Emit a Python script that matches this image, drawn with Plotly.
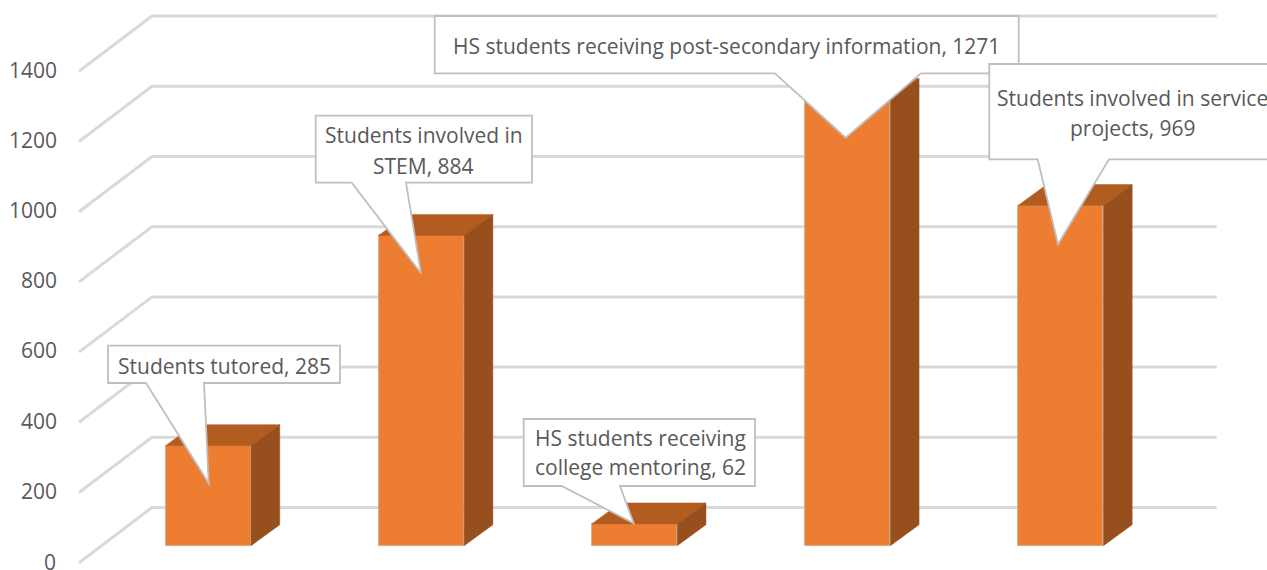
import plotly.graph_objects as go

# --- data ---
labels = ["Students tutored", "Students involved in STEM", "HS students receiving college mentoring",
          "HS students receiving post-secondary information", "Students involved in service projects"]
values = [285, 884, 62, 1271, 969]
axis_ticks = [0, 200, 400, 600, 800, 1000, 1200, 1400]

# --- geometry (pixels of the 1267x570 page) ---
W, H = 1267, 570
L = 58
PX_PER_VAL = 0.351
PX_PER_CAT = 213.1
X0 = 208.3       # centre of first bar
BASE = 545.7     # bar floor
LABEL0 = 561.7   # tick label 0
BAR_W = 85.5 / PX_PER_CAT
DX = 28.7 / PX_PER_CAT
DY = 21.0 / PX_PER_VAL
FRONT = "#ED7D31"; TOP = "#B35C20"; SIDE = "#974F1D"
GRID = "#D9D9D9"; EDGE = "#BFBFBF"; TXT = "#595959"
FONT = "Open Sans"

def xrange_():
    return [(L - X0) / PX_PER_CAT, (W - X0) / PX_PER_CAT]

fig = go.Figure()
# gridlines on primary axes (whose values match the tick labels)
grid_dx = [(79 - X0) / PX_PER_CAT, (152 - X0) / PX_PER_CAT, (1216.7 - X0) / PX_PER_CAT]
grid_dy = [(LABEL0 - 562.7) / PX_PER_VAL, (LABEL0 - 507.5) / PX_PER_VAL]
for v in axis_ticks:
    fig.add_trace(go.Scatter(x=grid_dx, y=[v + grid_dy[0], v + grid_dy[1], v + grid_dy[1]], mode="lines",
                             line=dict(color=GRID, width=3), hoverinfo="skip", showlegend=False))

# bars on overlay axes
cats = list(range(len(values)))
for i, v in zip(cats, values):
    r, l = i + BAR_W / 2, i - BAR_W / 2
    fig.add_trace(go.Scatter(x=[l, l + DX, r + DX, r, l], y=[v, v + DY, v + DY, v, v], mode="lines", fill="toself",
                             fillcolor=TOP, line=dict(color=TOP, width=0.5), xaxis="x2", yaxis="y2",
                             hoverinfo="skip", showlegend=False))
    fig.add_trace(go.Scatter(x=[r, r + DX, r + DX, r, r], y=[0, DY, v + DY, v, 0], mode="lines", fill="toself",
                             fillcolor=SIDE, line=dict(color=SIDE, width=0.5), xaxis="x2", yaxis="y2",
                             hoverinfo="skip", showlegend=False))
fig.add_trace(go.Bar(x=cats, y=values, width=BAR_W, marker=dict(color=FRONT, line=dict(color="#C9A48A", width=0.8)),
                     xaxis="x2", yaxis="y2", hovertext=labels, showlegend=False))

# callouts: (box left, top, right, bottom, tail-left, tail-right, tip x, tip y, [(text line, cx, cy), ...])
callouts = [
    (108, 345.7, 340, 383, 146, 204, 208.7, 483.3, [("Students tutored, 285", 224, 366)]),
    (315.7, 115.7, 532, 182.7, 351.7, 406, 421, 273.3,
     [("Students involved in", 423.5, 135), ("STEM, 884", 423.5, 166)]),
    (523.7, 419, 755, 486, 561.7, 620, 633.7, 523.3,
     [("HS students receiving", 640, 438), ("college mentoring, 62", 640, 467)]),
    (434.7, 16, 1018.7, 73.3, 775, 921, 845.7, 137.7,
     [("HS students receiving post-secondary information, 1271", 726.5, 46)]),
    (989.3, 64, 1280, 159.3, 1037.7, 1109, 1058, 244.3,
     [("Students involved in service", 1132, 98), ("projects, 969", 1133, 128)]),
]
def px(x): return (x - L) / (W - L)
def py(y): return 1 - y / H
shapes, annos = [], []
for (xl, yt, xr, yb, tl, tr, tx, ty, lines) in callouts:
    path = "M{} {} L{} {} L{} {} L{} {} L{} {} L{} {} L{} {} Z".format(
        px(xl), py(yt), px(xr), py(yt), px(xr), py(yb), px(tr), py(yb), px(tx), py(ty), px(tl), py(yb), px(xl), py(yb))
    shapes.append(dict(type="path", path=path, xref="paper", yref="paper", layer="above",
                       fillcolor="white", line=dict(color=EDGE, width=1.8)))
    for txt, cx, cy in lines:
        annos.append(dict(text=txt, x=px(cx), y=py(cy), xref="paper", yref="paper", showarrow=False,
                          xanchor="center", yanchor="middle", align="center",
                          font=dict(family=FONT, size=21, color=TXT)))
# the lowest tick label sits so close to the page edge that the axis would drop it
annos.append(dict(text=str(axis_ticks[0]), x=0, y=axis_ticks[0], xref="paper", yref="y", showarrow=False,
                  xanchor="right", yanchor="middle", xshift=-1, borderpad=0,
                  font=dict(family=FONT, size=21, color=TXT)))

fig.update_layout(
    width=W, height=H, margin=dict(l=L, r=0, t=0, b=0, pad=0),
    paper_bgcolor="white", plot_bgcolor="white", showlegend=False,
    xaxis=dict(range=xrange_(), visible=False, fixedrange=True),
    yaxis=dict(range=[(LABEL0 - H) / PX_PER_VAL, LABEL0 / PX_PER_VAL], tickvals=axis_ticks[1:],
               ticktext=[str(t) for t in axis_ticks[1:]], showgrid=False, zeroline=False, showline=False,
               ticks="", tickfont=dict(family=FONT, size=21, color=TXT), fixedrange=True),
    xaxis2=dict(range=xrange_(), visible=False, overlaying="x", fixedrange=True),
    yaxis2=dict(range=[(BASE - H) / PX_PER_VAL, BASE / PX_PER_VAL], visible=False, overlaying="y", fixedrange=True),
    shapes=shapes, annotations=annos, bargap=0,
)
fig.write_html("out.html", config=dict(displayModeBar=False),
               post_script="document.documentElement.style.margin='0';document.body.style.margin='0';document.body.style.overflow='hidden';")
